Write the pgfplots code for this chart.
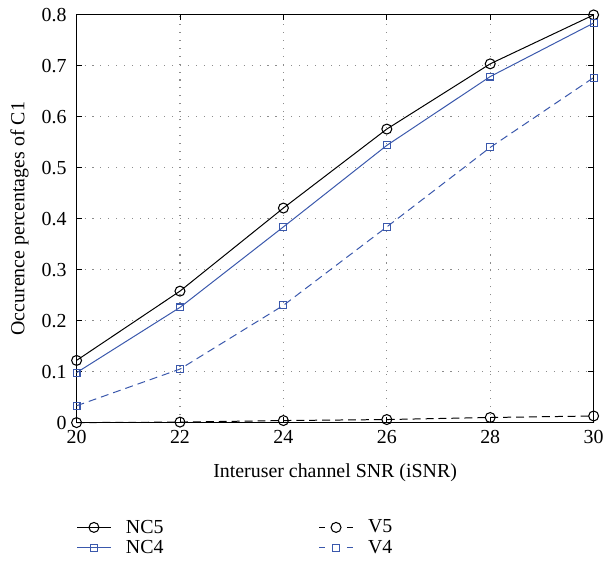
\documentclass[border=0pt]{standalone}
\usepackage{pgfplots}
\pgfplotsset{compat=1.18}
\usepackage{fontspec}
\setmainfont{Liberation Serif}
\definecolor{myblue}{RGB}{58,88,172}
\begin{document}
\begin{tikzpicture}
\begin{axis}[
  width=390pt, height=307.5pt, scale only axis,
  xmin=20, xmax=30, ymin=0, ymax=0.8,
  xtick={20,22,...,30}, ytick={0,0.1,...,0.8},
  yticklabels={0,0.1,0.2,0.3,0.4,0.5,0.6,0.7,0.8},
  tick align=inside, major tick length=4pt,
  grid=major, major grid style={dash pattern=on 0.8pt off 5.2pt, gray!90, line width=0.8pt},
  axis line style={line width=0.7pt},
  tick style={line width=0.7pt, black},
  /pgf/number format/assume math mode=true,
  tick label style={font=\fontsize{15}{17}\selectfont},
  yticklabel style={xshift=-4pt},
  xticklabel style={yshift=-2.5pt},
  label style={font=\fontsize{15}{17}\selectfont},
  xlabel={Interuser channel SNR (iSNR)},
  ylabel={Occurence percentages of C1},
  xlabel style={at={(rel axis cs:0.5,0)}, anchor=center, yshift=-38pt},
  ylabel style={at={(rel axis cs:0,0.5)}, anchor=center, yshift=43pt},
  clip=false,
  legend columns=2,
  legend style={draw=none, fill=none, font=\fontsize{15}{17}\selectfont,
    inner sep=0pt, outer sep=0pt,
    at={(0,-0.232)}, anchor=north west,
    /tikz/every odd column/.append style={column sep=9pt},
    /tikz/every even column/.append style={column sep=115pt},
    row sep=0pt},
  legend cell align=left,
  legend image code/.code={
    \draw[mark repeat=2, mark phase=2, #1] plot coordinates {(0pt,0pt) (12.75pt,0pt) (25.5pt,0pt)};
  },
]
\addplot[black, line width=0.75pt, mark=o, mark size=3.75pt, mark options={solid, line width=0.8pt}]
coordinates {(20,0.122) (22,0.258) (24,0.421) (26,0.576) (28,0.704) (30,0.800)};
\addlegendentry{NC5}
\addplot[black, line width=0.75pt, dash pattern=on 6pt off 3.75pt, mark=o, mark size=3.75pt, mark options={solid, line width=0.8pt},
  legend image post style={dash pattern=on 4.5pt off 16.5pt}]
coordinates {(20,0.0) (22,0.001) (24,0.004) (26,0.006) (28,0.010) (30,0.013)};
\addlegendentry{V5}
\addplot[myblue, line width=0.75pt, mark=square, mark size=2.6pt, mark options={solid, line width=0.8pt}]
coordinates {(20,0.098) (22,0.226) (24,0.384) (26,0.544) (28,0.679) (30,0.784)};
\addlegendentry{NC4}
\addplot[myblue, line width=0.75pt, dash pattern=on 6pt off 3.75pt, mark=square, mark size=2.6pt, mark options={solid, line width=0.8pt},
  legend image post style={dash pattern=on 4.5pt off 16.5pt}]
coordinates {(20,0.033) (22,0.105) (24,0.230) (26,0.384) (28,0.540) (30,0.677)};
\addlegendentry{V4}
\path (rel axis cs:0,0) ++(-57.75pt,-105.75pt);
\path (rel axis cs:1,1) ++(8.25pt,11.25pt);
\end{axis}
\end{tikzpicture}
\end{document}
